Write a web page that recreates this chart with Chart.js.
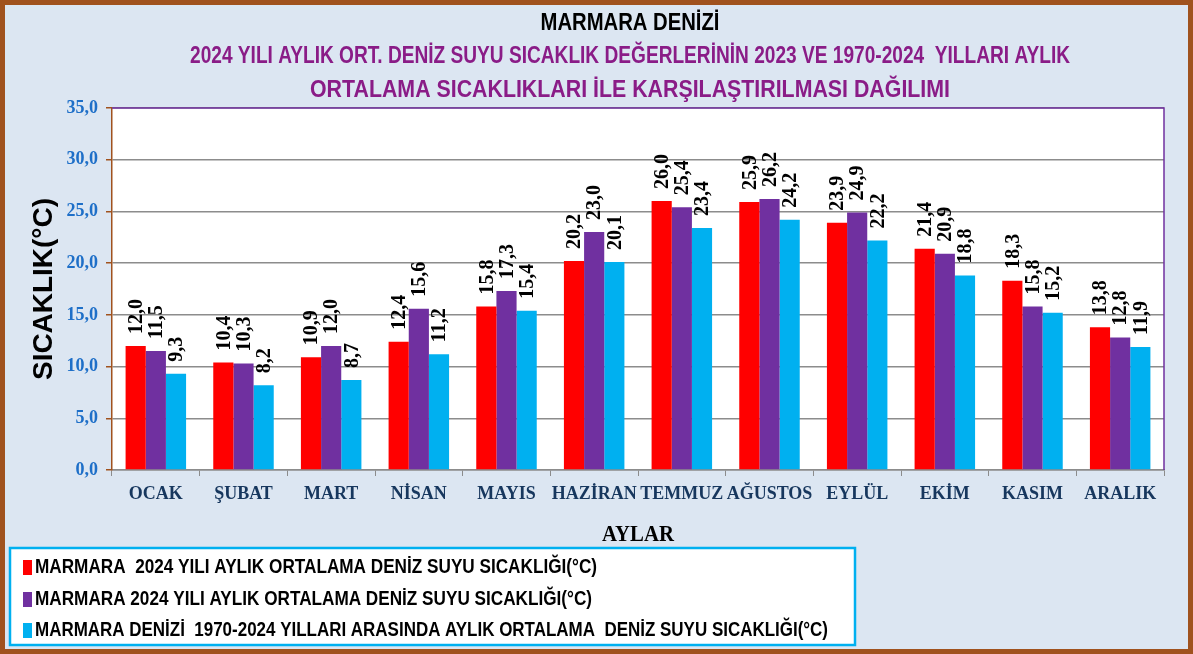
<!DOCTYPE html>
<html>
<head>
<meta charset="utf-8">
<script src="https://cdn.jsdelivr.net/npm/chart.js@4.4.0/dist/chart.umd.min.js"></script>
<style>
  body { margin: 0; background: #DCE6F2; }
  #wrap { width: 1193px; height: 654px; }
</style>
</head>
<body>
<div id="wrap"><canvas id="canvas1" width="1193" height="654"></canvas></div>
<script>
var months = ['OCAK', 'ŞUBAT', 'MART', 'NİSAN', 'MAYIS', 'HAZİRAN', 'TEMMUZ', 'AĞUSTOS', 'EYLÜL', 'EKİM', 'KASIM', 'ARALIK'];
var temp2024 = [12.0, 10.4, 10.9, 12.4, 15.8, 20.2, 26.0, 25.9, 23.9, 21.4, 18.3, 13.8];
var temp2023 = [11.5, 10.3, 12.0, 15.6, 17.3, 23.0, 25.4, 26.2, 24.9, 20.9, 15.8, 12.8];
var tempLong = [9.3, 8.2, 8.7, 11.2, 15.4, 20.1, 23.4, 24.2, 22.2, 18.8, 15.2, 11.9];
var seriesNames = [
  'MARMARA  2024 YILI AYLIK ORTALAMA DENİZ SUYU SICAKLIĞI(°C)',
  'MARMARA 2024 YILI AYLIK ORTALAMA DENİZ SUYU SICAKLIĞI(°C)',
  'MARMARA DENİZİ  1970-2024 YILLARI ARASINDA AYLIK ORTALAMA  DENİZ SUYU SICAKLIĞI(°C)'
];
var titleMain = 'MARMARA DENİZİ';
var titleSub = [
  '2024 YILI AYLIK ORT. DENİZ SUYU SICAKLIK DEĞERLERİNİN 2023 VE 1970-2024  YILLARI AYLIK',
  'ORTALAMA SICAKLIKLARI İLE KARŞILAŞTIRILMASI DAĞILIMI'
];
var yTitle = 'SICAKLIK(°C)';
var xTitle = 'AYLAR';

var colors = ['#FF0000', '#7030A0', '#00B0F0'];
var brown = '#A0521E';
var serif = '"Liberation Serif", "Times New Roman", serif';
var sans = '"Liberation Sans", Arial, sans-serif';

function fmt(v) { return v.toFixed(1).replace('.', ','); }

var framePlugin = {
  id: 'frame',
  beforeDraw: function(chart) {
    var c = chart.ctx, a = chart.chartArea;
    c.save();
    c.fillStyle = '#DCE6F2';
    c.fillRect(0, 0, chart.width, chart.height);
    c.fillStyle = '#FFFFFF';
    c.fillRect(a.left, a.top, a.right - a.left, a.bottom - a.top);
    c.restore();
  },
  afterDatasetsDraw: function(chart) {
    var c = chart.ctx;
    c.save();
    c.font = 'bold 20px ' + serif;
    c.fillStyle = '#000';
    c.textAlign = 'left';
    c.textBaseline = 'middle';
    chart.data.datasets.forEach(function(ds, i) {
      chart.getDatasetMeta(i).data.forEach(function(bar, j) {
        c.save();
        c.translate(bar.x + 1, bar.y - 12);
        c.rotate(-Math.PI / 2);
        c.fillText(fmt(ds.data[j]), 0, 0);
        c.restore();
      });
    });
    c.restore();
  },
  afterDraw: function(chart) {
    var c = chart.ctx, a = chart.chartArea;
    c.save();
    // plot border top/right
    c.strokeStyle = '#7030A0';
    c.lineWidth = 1.5;
    c.beginPath();
    c.moveTo(a.left, a.top); c.lineTo(a.right, a.top); c.lineTo(a.right, a.bottom);
    c.stroke();

    // titles
    c.textAlign = 'center';
    c.textBaseline = 'middle';
    c.fillStyle = '#000';
    c.font = 'bold 24px ' + sans;
    c.fillText(titleMain, 630, 23, 179);
    c.fillStyle = '#8A1C87';
    c.font = 'bold 23px ' + sans;
    c.fillText(titleSub[0], 630, 57, 880);
    c.fillText(titleSub[1], 630, 91, 640);

    // axis titles
    c.fillStyle = '#000';
    c.font = 'bold 24px ' + serif;
    c.fillText(xTitle, 638, 535, 72);
    c.save();
    c.translate(44, 289);
    c.rotate(-Math.PI / 2);
    c.font = 'bold 28px ' + sans;
    c.fillText(yTitle, 0, 0, 182);
    c.restore();

    // legend box
    c.fillStyle = '#FFFFFF';
    c.fillRect(10, 548, 845, 97);
    c.strokeStyle = '#00B0F0';
    c.lineWidth = 2.5;
    c.strokeRect(10, 548, 845, 97);
    var ly = [567, 599, 630];
    var lw = [562, 557, 793];
    c.textAlign = 'left';
    c.font = 'bold 20px ' + sans;
    for (var i = 0; i < seriesNames.length; i++) {
      c.fillStyle = colors[i];
      c.fillRect(23, ly[i] - 7, 9, 15);
      c.fillStyle = '#000';
      c.fillText(seriesNames[i], 35, ly[i], lw[i]);
    }

    // outer frame
    c.strokeStyle = brown;
    c.lineWidth = 5;
    c.strokeRect(2.5, 2.5, chart.width - 5, chart.height - 5);
    c.restore();
  }
};

var ctx1 = document.getElementById('canvas1').getContext('2d');
window.myBar = new Chart(ctx1, {
  type: 'bar',
  data: {
    labels: months,
    datasets: [
      { label: seriesNames[0], data: temp2024, backgroundColor: colors[0] },
      { label: seriesNames[1], data: temp2023, backgroundColor: colors[1] },
      { label: seriesNames[2], data: tempLong, backgroundColor: colors[2] }
    ]
  },
  options: {
    responsive: false,
    animation: false,
    categoryPercentage: 0.69,
    barPercentage: 1.0,
    layout: { padding: { top: 108, right: 29, left: 0, bottom: 0 } },
    plugins: {
      legend: { display: false },
      title: { display: false },
      tooltip: { enabled: false }
    },
    scales: {
      x: {
        afterFit: function(s) { s.height = 184; },
        grid: { offset: true, drawOnChartArea: false, tickLength: 6, color: '#8C8C8C' },
        border: { color: '#8C8C8C', width: 1.5 },
        ticks: {
          autoSkip: false, maxRotation: 0, padding: 8,
          color: '#17375E',
          font: { family: serif, size: 18, weight: 'bold' }
        }
      },
      y: {
        min: 0, max: 35,
        afterFit: function(s) { s.width = 112; },
        grid: { color: '#8C8C8C', lineWidth: 1.5, tickLength: 6, tickColor: brown },
        border: { color: brown, width: 1.5 },
        ticks: {
          stepSize: 5, padding: 8,
          color: '#1E6FC8',
          font: { family: serif, size: 18, weight: 'bold' },
          callback: function(v) { return fmt(v); }
        }
      }
    }
  },
  plugins: [framePlugin]
});
</script>
</body>
</html>
